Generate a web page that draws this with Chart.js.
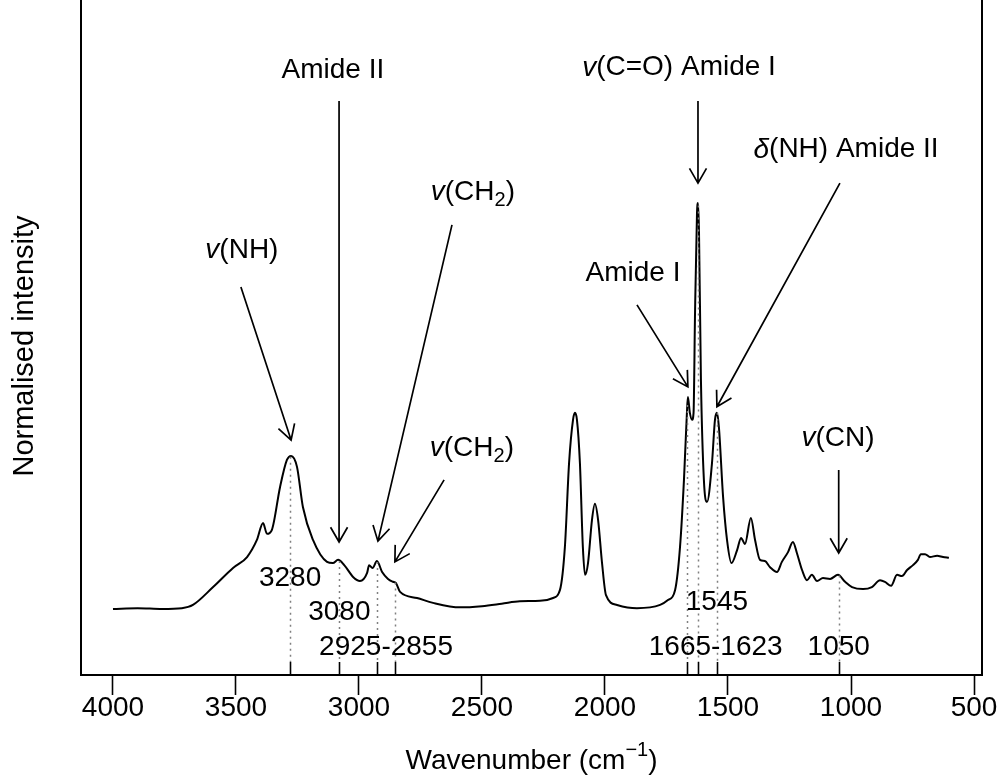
<!DOCTYPE html>
<html>
<head>
<meta charset="utf-8">
<script src="https://cdn.jsdelivr.net/npm/chart.js@4/dist/chart.umd.min.js"></script>
<style>
  html, body { margin: 0; padding: 0; background: #fff; }
  #wrap { width: 1003px; height: 780px; }
</style>
</head>
<body>
<div id="wrap"><canvas id="spectrum" width="1003" height="780"></canvas></div>
<script>
// spectrum (wavenumber in cm-1, intensity normalised to the 1623 peak)
const wavenumbers = [4000, 3900, 3800, 3720, 3675, 3593, 3512, 3455, 3415, 3390, 3374, 3354, 3321, 3293, 3276,
  3252, 3228, 3187, 3130, 3106, 3085, 3060, 3024, 2996, 2967, 2959, 2945, 2927, 2906, 2882, 2862, 2850, 2833,
  2764, 2699, 2589, 2500, 2420, 2346, 2264, 2211, 2183, 2163, 2146, 2130, 2122, 2114, 2102, 2090, 2081, 2069,
  2053, 2041, 2028, 2012, 1996, 1951, 1870, 1776, 1744, 1715, 1695, 1679, 1667, 1663, 1655, 1646, 1640, 1634,
  1626, 1622, 1618, 1610, 1598, 1585, 1565, 1553, 1545, 1537, 1520, 1504, 1486, 1463, 1447, 1431, 1407, 1390,
  1370, 1350, 1329, 1301, 1281, 1256, 1236, 1220, 1199, 1179, 1159, 1138, 1114, 1085, 1053, 1024, 996, 951,
  915, 882, 862, 837, 813, 793, 772, 748, 728, 716, 699, 679, 650, 626, 602];
const intensity = [0, 0.002, 0, 0.002, 0.010, 0.054, 0.101, 0.128, 0.170, 0.212, 0.185, 0.195, 0.300, 0.367, 0.377,
  0.350, 0.251, 0.170, 0.116, 0.113, 0.121, 0.108, 0.079, 0.069, 0.089, 0.108, 0.101, 0.118, 0.091, 0.074, 0.067, 0.064, 0.042,
  0.027, 0.015, 0.004, 0.007, 0.013, 0.019, 0.020, 0.027, 0.047, 0.153, 0.360, 0.466, 0.483, 0.466, 0.360, 0.153, 0.084, 0.113,
  0.219, 0.259, 0.219, 0.113, 0.034, 0.010, 0.002, 0.010, 0.022, 0.047, 0.153, 0.318, 0.483, 0.522, 0.483, 0.466, 0.483, 0.729,
  0.975, 1.000, 0.933, 0.564, 0.318, 0.264, 0.360, 0.466, 0.483, 0.448, 0.276, 0.170, 0.113, 0.145, 0.175, 0.160, 0.224, 0.170,
  0.121, 0.118, 0.103, 0.091, 0.116, 0.140, 0.165, 0.138, 0.096, 0.071, 0.084, 0.069, 0.076, 0.074, 0.084, 0.067, 0.054, 0.049,
  0.054, 0.071, 0.067, 0.057, 0.084, 0.081, 0.096, 0.108, 0.121, 0.135, 0.135, 0.128, 0.131, 0.128, 0.126];

const tickValues = [4000, 3500, 3000, 2500, 2000, 1500, 1000, 500];

// assigned bands: dotted drop lines + rug ticks
const markedBands = [3280, 3080, 2925, 2855, 1665, 1623, 1545, 1050];
const peakLabels = ['3280', '3080', '2925-2855', '1545', '1665-1623', '1050'];
const peakLabelX = [3280, 3080, 2890, 1545, 1550, 1050];
const peakLabelY = [0.076, -0.007, -0.094, 0.017, -0.094, -0.094];

// annotations ("_2" = subscript, leading v / δ in italics)
const annoLabels = ['v(NH)', 'Amide II', 'v(CH_2)', 'v(CH_2)', 'Amide I', 'v(C=O) Amide I', 'δ(NH) Amide II', 'v(CN)'];
const annoTextX = [3476, 3106, 2537, 2541, 1886, 1699, 1020, 1053];
const annoTextY = [0.884, 1.328, 1.027, 0.397, 0.828, 1.333, 1.131, 0.421];
const arrowFromX = [3480, 3081, 2622, 2654, 1870, 1622, 1045, 1050];
const arrowFromY = [0.793, 1.251, 0.946, 0.318, 0.749, 1.251, 1.049, 0.342];
const arrowToX = [3276, 3081, 2923, 2854, 1663, 1622, 1545, 1050];
const arrowToY = [0.416, 0.165, 0.167, 0.116, 0.547, 1.049, 0.498, 0.138];

const FONT = '"Liberation Sans", Arial, Helvetica, sans-serif';
const SIZE = 28;

function valueAt(w) {
  for (let i = 0; i < wavenumbers.length - 1; i++) {
    const a = wavenumbers[i], b = wavenumbers[i + 1];
    if (w <= a && w >= b) {
      const t = (a - w) / (a - b);
      return intensity[i] + t * (intensity[i + 1] - intensity[i]);
    }
  }
  return 0;
}

function parseLabel(s) {
  const segs = [];
  let rest = s;
  if (/^[vδ]\(/.test(rest)) { segs.push({ t: rest[0], italic: true }); rest = rest.slice(1); }
  const parts = rest.split(/_(\d)/);
  parts.forEach((p, i) => { if (p) segs.push(i % 2 ? { t: p, sub: true } : { t: p }); });
  return segs;
}

function drawRich(ctx, segs, cx, cy, size) {
  const fontOf = (s) => (s.italic ? 'italic ' : '') + Math.round(s.sub || s.sup ? size * 0.7 : size) + 'px ' + FONT;
  let total = 0;
  segs.forEach(s => { ctx.font = fontOf(s); s.w = ctx.measureText(s.t).width; total += s.w; });
  let x = cx - total / 2;
  ctx.textAlign = 'left';
  ctx.textBaseline = 'middle';
  segs.forEach(s => {
    ctx.font = fontOf(s);
    const dy = s.sub ? size * 0.3 : (s.sup ? -size * 0.38 : 0);
    ctx.fillText(s.t, x, cy + dy);
    x += s.w;
  });
}

function arrow(ctx, x0, y0, x1, y1) {
  const ang = Math.atan2(y1 - y0, x1 - x0);
  const len = 17, spread = Math.PI / 6;
  ctx.beginPath();
  ctx.moveTo(x0, y0);
  ctx.lineTo(x1, y1);
  ctx.moveTo(x1 - len * Math.cos(ang - spread), y1 - len * Math.sin(ang - spread));
  ctx.lineTo(x1, y1);
  ctx.lineTo(x1 - len * Math.cos(ang + spread), y1 - len * Math.sin(ang + spread));
  ctx.stroke();
}

const annotate = {
  id: 'annotate',
  afterDatasetsDraw(chart) {
    const { ctx, chartArea: ca, scales: { x, y } } = chart;
    ctx.save();
    // dotted drop lines and rug ticks
    ctx.strokeStyle = '#808080';
    ctx.lineWidth = 1.5;
    ctx.setLineDash([2, 4]);
    markedBands.forEach(b => {
      const px = Math.round(x.getPixelForValue(b)) + 0.5;
      ctx.beginPath();
      ctx.moveTo(px, y.getPixelForValue(valueAt(b)));
      ctx.lineTo(px, ca.bottom - 13);
      ctx.stroke();
    });
    ctx.setLineDash([]);
    ctx.strokeStyle = '#000';
    ctx.lineWidth = 1.6;
    markedBands.forEach(b => {
      const px = Math.round(x.getPixelForValue(b)) + 0.5;
      ctx.beginPath();
      ctx.moveTo(px, ca.bottom - 13);
      ctx.lineTo(px, ca.bottom);
      ctx.stroke();
    });
    // frame (top edge lies outside the picture)
    ctx.lineWidth = 2;
    ctx.beginPath();
    ctx.moveTo(ca.left, 0);
    ctx.lineTo(ca.left, ca.bottom);
    ctx.lineTo(ca.right, ca.bottom);
    ctx.lineTo(ca.right, 0);
    ctx.stroke();
    // arrows
    ctx.lineWidth = 1.7;
    annoLabels.forEach((_, i) => {
      arrow(ctx, x.getPixelForValue(arrowFromX[i]), y.getPixelForValue(arrowFromY[i]),
        x.getPixelForValue(arrowToX[i]), y.getPixelForValue(arrowToY[i]));
    });
    // texts
    ctx.fillStyle = '#000';
    annoLabels.forEach((lab, i) => {
      drawRich(ctx, parseLabel(lab), x.getPixelForValue(annoTextX[i]), y.getPixelForValue(annoTextY[i]), SIZE);
    });
    peakLabels.forEach((lab, i) => {
      drawRich(ctx, [{ t: lab }], x.getPixelForValue(peakLabelX[i]), y.getPixelForValue(peakLabelY[i]), SIZE);
    });
    // axis titles
    drawRich(ctx, [{ t: 'Wavenumber (cm' }, { t: '−1', sup: true }, { t: ')' }], (ca.left + ca.right) / 2, 761, SIZE);
    ctx.translate(25, (ca.top + ca.bottom) / 2);
    ctx.rotate(-Math.PI / 2);
    drawRich(ctx, [{ t: 'Normalised intensity' }], 0, 0, 29);
    ctx.restore();
  }
};

new Chart(document.getElementById('spectrum'), {
  type: 'line',
  data: {
    datasets: [{
      data: wavenumbers.map((w, i) => ({ x: w, y: intensity[i] })),
      borderColor: '#000',
      borderWidth: 2,
      pointRadius: 0,
      cubicInterpolationMode: 'monotone',
      fill: false
    }]
  },
  options: {
    responsive: false,
    animation: false,
    layout: { padding: { left: 81, right: 21, top: 17, bottom: 0 } },
    plugins: { legend: { display: false }, tooltip: { enabled: false } },
    scales: {
      x: {
        type: 'linear',
        reverse: true,
        min: 467.5,
        max: 4130,
        afterBuildTicks: (scale) => { scale.ticks = tickValues.map(v => ({ value: v })); },
        afterFit: (scale) => { scale.height = 105; },
        grid: { drawOnChartArea: false, drawTicks: true, tickLength: 20, tickColor: '#000', tickWidth: 1.6 },
        border: { display: false },
        ticks: {
          color: '#000',
          font: { family: FONT, size: SIZE },
          padding: -4,
          maxRotation: 0,
          autoSkip: false,
          callback: (v) => String(v)
        }
      },
      y: {
        display: false,
        min: -0.1626,
        max: 1.458
      }
    }
  },
  plugins: [annotate]
});
</script>
</body>
</html>
